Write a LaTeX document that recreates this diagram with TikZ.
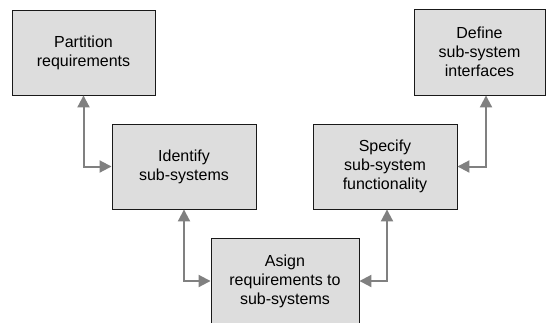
\documentclass[tikz,border=0pt]{standalone}
\usepackage{fontspec}
\setmainfont{Liberation Sans}
\usetikzlibrary{arrows.meta}
\definecolor{boxgray}{HTML}{DDDDDD}
\definecolor{arrgray}{HTML}{808080}
\begin{document}
\begin{tikzpicture}[x=1pt,y=-1pt,
  box/.style={draw=black!90, fill=boxgray, line width=0.9pt, minimum height=85pt,
    align=center, inner sep=0pt, font=\fontsize{16}{19}\selectfont},
  conn/.style={draw=arrgray, line width=2pt,
    {Triangle[length=12pt,width=12pt]}-{Triangle[length=12pt,width=12pt]}}]
\useasboundingbox (0,0) rectangle (547,322);
\clip (0,0) rectangle (547,322);
\node[box, minimum width=143pt] (p) at (83.5,52.5) {Partition\\requirements};
\node[box, minimum width=144pt] (i) at (184,166.5) {Identify\\sub-systems};
\node[box, minimum width=148pt, minimum height=86pt] (a) at (285,281) {Asign\\requirements to\\sub-systems};
\node[box, minimum width=144pt] (s) at (385,166.5) {Specify\\sub-system\\functionality};
\node[box, minimum width=131pt, minimum height=86pt] (d) at (479.5,52) {Define\\sub-system\\interfaces};
\draw[conn] (p.south) |- (i.west);
\draw[conn] (i.south) |- (a.west);
\draw[conn] ([xshift=2pt]s.south) |- (a.east);
\draw[conn] ([xshift=6.5pt]d.south) |- (s.east);
\end{tikzpicture}
\end{document}
